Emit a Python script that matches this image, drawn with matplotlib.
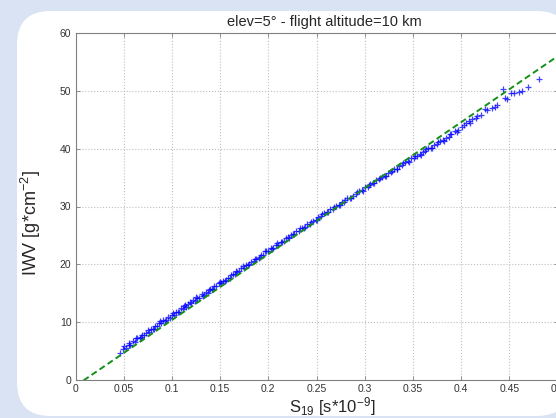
import matplotlib
matplotlib.use("Agg")
import matplotlib.pyplot as plt
from matplotlib.patches import FancyBboxPatch

plt.rcParams['font.family'] = ['Liberation Sans', 'DejaVu Sans']
plt.rcParams['mathtext.fontset'] = 'custom'
plt.rcParams['mathtext.rm'] = 'Liberation Sans'
plt.rcParams['mathtext.it'] = 'Liberation Sans:italic'

# ---- data ----
s19 = [0.046, 0.049, 0.052, 0.055, 0.057, 0.060, 0.062, 0.064, 0.067, 0.069,
       0.071, 0.073, 0.076, 0.078, 0.080, 0.082, 0.085, 0.087, 0.089, 0.091,
       0.093, 0.096, 0.098, 0.100, 0.102, 0.104, 0.106, 0.109, 0.111, 0.113,
       0.115, 0.117, 0.120, 0.122, 0.124, 0.126, 0.128, 0.131, 0.133, 0.135,
       0.137, 0.140, 0.142, 0.144, 0.146, 0.149, 0.151, 0.153, 0.156, 0.158,
       0.160, 0.163, 0.165, 0.167, 0.170, 0.172, 0.175, 0.177, 0.180, 0.182,
       0.185, 0.187, 0.190, 0.192, 0.195, 0.198, 0.200, 0.203, 0.205, 0.208,
       0.210, 0.213, 0.216, 0.218, 0.221, 0.224, 0.226, 0.229, 0.232, 0.235,
       0.237, 0.240, 0.243, 0.246, 0.249, 0.252, 0.255, 0.258, 0.261, 0.264,
       0.267, 0.270, 0.273, 0.276, 0.279, 0.282, 0.285, 0.288, 0.291, 0.294,
       0.297, 0.300, 0.303, 0.306, 0.309, 0.312, 0.315, 0.318, 0.321, 0.324,
       0.327, 0.330, 0.333, 0.336, 0.339, 0.342, 0.345, 0.348, 0.351, 0.354,
       0.357, 0.360, 0.363, 0.366, 0.369, 0.372, 0.375, 0.378, 0.381, 0.384,
       0.387, 0.390, 0.394, 0.397, 0.401, 0.405, 0.408, 0.411, 0.415, 0.417,
       0.421, 0.425, 0.427, 0.432, 0.435, 0.437, 0.443, 0.446, 0.448, 0.452,
       0.455, 0.460, 0.463, 0.469, 0.481]
iwv = [4.7, 5.4, 5.5, 6.1, 6.0, 6.7, 6.6, 7.2, 7.3, 7.8,
       7.7, 8.2, 8.3, 8.9, 8.8, 9.3, 9.4, 9.9, 9.8, 10.3,
       10.2, 10.9, 10.8, 11.3, 11.2, 11.8, 11.7, 12.4, 12.3, 12.8,
       12.7, 13.2, 13.3, 13.8, 13.7, 14.2, 14.1, 14.8, 14.7, 15.2,
       15.1, 15.7, 15.7, 16.2, 16.2, 16.7, 16.7, 17.2, 17.3, 17.7,
       17.7, 18.3, 18.3, 18.8, 18.9, 19.3, 19.4, 19.9, 20.0, 20.4,
       20.6, 21.0, 21.1, 21.6, 21.7, 22.3, 22.3, 22.8, 22.8, 23.3,
       23.4, 23.9, 24.0, 24.5, 24.6, 25.1, 25.2, 25.7, 25.8, 26.3,
       26.3, 26.9, 27.0, 27.5, 27.7, 28.2, 28.3, 28.8, 29.0, 29.5,
       29.6, 30.1, 30.2, 30.7, 30.8, 31.4, 31.5, 31.9, 32.1, 32.6,
       32.8, 33.3, 33.4, 33.9, 34.1, 34.5, 34.7, 35.1, 35.3, 35.8,
       35.9, 36.4, 36.5, 37.0, 37.2, 37.7, 37.8, 38.3, 38.3, 38.8,
       39.0, 39.4, 39.6, 40.1, 40.2, 40.7, 40.8, 41.3, 41.5, 41.9,
       42.1, 42.6, 43.0, 43.3, 43.8, 44.5, 44.7, 45.1, 45.3, 45.7,
       45.9, 46.8, 46.6, 47.1, 47.2, 47.6, 50.3, 48.7, 48.6, 49.6,
       49.7, 49.8, 50.0, 50.6, 52.0]

s19_b = [0.050, 0.056, 0.063, 0.068, 0.075, 0.081, 0.088, 0.094, 0.101, 0.107,
         0.114, 0.119, 0.125, 0.132, 0.138, 0.143, 0.150, 0.155, 0.161, 0.168,
         0.174, 0.179, 0.186, 0.191, 0.197, 0.204, 0.209, 0.214, 0.220, 0.227,
         0.233, 0.238, 0.244, 0.250, 0.256, 0.262, 0.268, 0.274, 0.280, 0.286,
         0.292, 0.298, 0.304, 0.310, 0.316, 0.322, 0.328, 0.334, 0.340, 0.346,
         0.352, 0.358, 0.364, 0.370, 0.376, 0.382, 0.389, 0.396, 0.403, 0.409]
iwv_b = [5.9, 6.4, 7.3, 7.4, 8.6, 8.9, 10.2, 10.3, 11.6, 11.8,
         12.9, 13.5, 14.3, 14.6, 15.6, 15.8, 16.9, 17.1, 18.2, 18.6,
         19.7, 19.8, 21.0, 21.2, 22.3, 22.6, 23.7, 23.8, 24.8, 25.2,
         26.2, 26.4, 27.4, 27.7, 28.7, 29.0, 29.9, 30.2, 31.2, 31.5,
         32.5, 32.7, 33.8, 34.0, 35.0, 35.3, 36.2, 36.5, 37.5, 37.7,
         38.7, 38.9, 40.0, 40.2, 41.2, 41.4, 42.5, 42.9, 44.1, 44.4]

fit_slope = 114.0
fit_intercept = -1.03
fit_x = [0.0, 0.5]

x_ticks = [0, 0.05, 0.1, 0.15, 0.2, 0.25, 0.3, 0.35, 0.4, 0.45, 0.5]
x_ticklabels = ['0', '0.05', '0.1', '0.15', '0.2', '0.25', '0.3', '0.35', '0.4', '0.45', '0.5']
y_ticks = [0, 10, 20, 30, 40, 50, 60]
y_ticklabels = ['0', '10', '20', '30', '40', '50', '60']

title = 'elev=5° - flight altitude=10 km'
xlabel = r'S$_{19}$ [s*10$^{-9}$]'
ylabel = r'IWV [g*cm$^{-2}$]'

# ---- figure ----
W, H = 556, 418
fig = plt.figure(figsize=(W / 100, H / 100), dpi=100)
fig.patch.set_facecolor('#d9e3f3')

panel = FancyBboxPatch((17 / W, 2 / H), (570 - 17) / W, (407 - 2) / H,
                       boxstyle="round,pad=0,rounding_size=0.06",
                       transform=fig.transFigure, facecolor='white',
                       edgecolor='none', mutation_aspect=W / H, zorder=-5)
fig.patches.append(panel)

ax = fig.add_axes([75.5 / W, 38 / H, 482 / W, 347 / H])
ax.set_zorder(2)
ax.set_facecolor('white')

fy = [fit_slope * v + fit_intercept for v in fit_x]
ax.plot(fit_x, fy, color='#14901a', linestyle=(0, (3.2, 1.8)), linewidth=1.4, zorder=3)
for xs, ys in ((s19, iwv), (s19_b, iwv_b)):
    ax.plot(xs, ys, linestyle='none', marker='+', color='#0000ff',
            markersize=5, markeredgewidth=0.9, alpha=0.75, zorder=2)

ax.set_xlim(0, 0.5)
ax.set_ylim(0, 60)
ax.set_xticks(x_ticks)
ax.set_xticklabels(x_ticklabels)
ax.set_yticks(y_ticks)
ax.set_yticklabels(y_ticklabels)
ax.grid(True, linestyle=':', color='#bfbfbf', linewidth=0.8)
ax.set_axisbelow(True)
ax.tick_params(direction='in', length=3, width=0.6, colors='#808080',
               labelcolor='#333333', labelsize=7.5, top=True, right=True, pad=3)
for sp in ax.spines.values():
    sp.set_color('#808080')
    sp.set_linewidth(0.8)

ax.set_title(title, fontsize=10.5, color='#262626', pad=5, x=0.516)
ax.set_xlabel(xlabel, fontsize=12, color='#262626')
ax.xaxis.set_label_coords(0.532, -0.043)
ax.set_ylabel(ylabel, fontsize=13, color='#262626')
ax.yaxis.set_label_coords(-0.067, 0.452)

fig.savefig('out.png', dpi=100, facecolor=fig.get_facecolor())
